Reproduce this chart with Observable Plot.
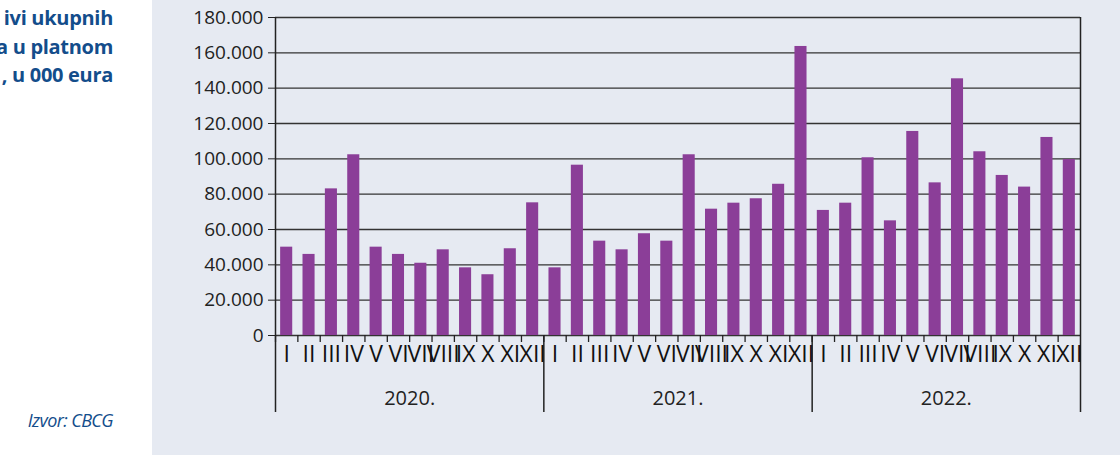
<!DOCTYPE html>
<html>
<head>
<meta charset="utf-8">
<script src="https://cdn.jsdelivr.net/npm/d3@7"></script>
<script src="https://cdn.jsdelivr.net/npm/@observablehq/plot@0.6"></script>
<style>
  html, body { margin: 0; padding: 0; background: #ffffff; }
  #wrap { position: relative; width: 1120px; height: 455px; overflow: hidden; background: #ffffff; }
  #title { position: absolute; left: -87px; top: 4px; width: 200px; text-align: right;
    font-family: "Open Sans", sans-serif; font-weight: 700; font-size: 20px; line-height: 28.5px;
    color: #134d8b; white-space: nowrap; letter-spacing: -0.3px; }
  #source { position: absolute; left: 0; top: 410px; width: 113px; text-align: right;
    font-family: "Open Sans", sans-serif; font-style: italic; font-size: 18px; line-height: 20px;
    color: #134d8b; white-space: nowrap; letter-spacing: -0.6px; }
  #panel { position: absolute; left: 152px; top: 0; width: 968px; height: 455px; background: #e6eaf2; }
  #panel svg { display: block; }
  g[aria-label="month-label"] text { letter-spacing: -1px; }
</style>
</head>
<body>
<div id="wrap">
  <div id="title">ivi ukupnih<br>a u platnom<br>, u 000 eura</div>
  <div id="source">Izvor: CBCG</div>
  <div id="panel"></div>
</div>
<script>
const years = ["2020.", "2021.", "2022."];
const months = ["I", "II", "III", "IV", "V", "VI", "VII", "VIII", "IX", "X", "XI", "XII"];
const values2020 = [50.0, 45.9, 83.0, 102.3, 50.0, 45.9, 40.9, 48.5, 38.3, 34.4, 49.1, 75.1];
const values2021 = [38.3, 96.4, 53.4, 48.5, 57.6, 53.4, 102.3, 71.5, 74.9, 77.4, 85.6, 163.6];
const values2022 = [70.8, 74.9, 100.6, 64.9, 115.5, 86.4, 145.3, 104.0, 90.6, 84.0, 112.1, 99.6];
const yTicks = [0, 20000, 40000, 60000, 80000, 100000, 120000, 140000, 160000, 180000];

const series = [values2020, values2021, values2022];
const data = [];
series.forEach((vals, yi) => {
  vals.forEach((v, mi) => {
    data.push({ year: years[yi], month: months[mi], idx: yi * 12 + mi, value: v * 1000 });
  });
});
const nMonths = months.length;
const yearRows = years.map((y, i) => ({ year: y, start: i * nMonths, mid: i * nMonths + nMonths / 2 }));
const edges = [0, years.length * nMonths];
const innerSeparators = yearRows.slice(1).map(d => d.start);
const fmt = d => d3.format(",")(d).replace(/,/g, ".");

const chart = Plot.plot({
  width: 968,
  height: 455,
  marginLeft: 123,
  marginRight: 40,
  marginTop: 17,
  marginBottom: 120,
  style: { background: "transparent", fontFamily: "'Open Sans', sans-serif", fontSize: "19px", color: "#222" },
  x: { type: "linear", domain: [0, years.length * nMonths], axis: null },
  y: { domain: [0, 180000], ticks: yTicks, tickSize: 7, tickPadding: 5, tickFormat: fmt, label: null },
  marks: [
    Plot.ruleY(yTicks, { stroke: "#333", strokeWidth: 1.4 }),
    Plot.rectY(data, { x1: d => d.idx + 0.23, x2: d => d.idx + 0.77, y: "value", fill: "#8b3e98" }),
    Plot.ruleX(data, { x: "idx", y1: 0, y2: 0, insetBottom: -7, stroke: "#222", strokeWidth: 1.3 }),
    Plot.ruleX(edges, { insetBottom: -77, stroke: "#222", strokeWidth: 1.5 }),
    Plot.ruleX(innerSeparators, { y1: 0, y2: 0, insetBottom: -77, stroke: "#222", strokeWidth: 1.5 }),
    Plot.text(data, { x: d => d.idx + 0.5, text: "month", frameAnchor: "bottom", dy: 26, fontSize: 23,
      fontFamily: "'Open Sans', sans-serif", fill: "#111", ariaLabel: "month-label" }),
    Plot.text(yearRows, { x: "mid", text: "year", frameAnchor: "bottom", dy: 69, fontSize: 20, fill: "#222" })
  ]
});
document.getElementById("panel").appendChild(chart);
</script>
</body>
</html>
